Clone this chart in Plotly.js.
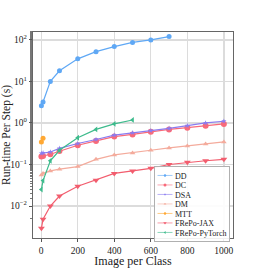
<!DOCTYPE html>
<html><head><meta charset="utf-8">
<script src="https://cdn.plot.ly/plotly-3.0.1.min.js"></script>
<style>html,body{margin:0;padding:0;background:#fff}#c{width:258px;height:268px}</style>
</head><body><div id="c"></div>
<script>
const ddX = [1,10,50,100,200,300,400,500,600,700];
const ddY = [2.6,3.2,10,18,35,52,69,87,100,120];
const fullX = [1,10,50,100,200,300,400,500,600,700,800,900,1000];
const dcY = [0.155,0.16,0.176,0.21,0.29,0.37,0.47,0.53,0.61,0.70,0.77,0.86,0.95];
const dsaY = [0.186,0.19,0.20,0.245,0.32,0.40,0.51,0.58,0.65,0.74,0.86,1.0,1.1];
const dmY = [0.056,0.061,0.07,0.077,0.089,0.133,0.17,0.19,0.22,0.25,0.28,0.31,0.35];
const mttX = [1,10];
const mttY = [0.35,0.43];
const jaxY = [0.0029,0.0048,0.010,0.0174,0.030,0.042,0.061,0.07,0.081,0.10,0.113,0.123,0.133];
const ptX = [1,10,50,100,200,300,400,500];
const ptY = [0.025,0.041,0.123,0.22,0.44,0.70,0.95,1.18];
const yTickVals = [0.01,0.1,1,10,100];
const yTickText = ['10<sup>−2</sup>','10<sup>−1</sup>','10<sup>0</sup>','10<sup>1</sup>','10<sup>2</sup>'];
const xTickVals = [0,200,400,600,800,1000];

const names = ['DD','DC','DSA','DM','MTT','FRePo-JAX','FRePo-PyTorch'];
const colors = ['#5fa8f5','#f86a7a','#8a7cf0','#f4ab9c','#ffa833','#f25d6e','#3dbb8c'];
const symbols = ['circle','circle','star','triangle-up','circle','triangle-down','triangle-left'];
const xs = [ddX, fullX, fullX, fullX, mttX, fullX, ptX];
const ys = [ddY, dcY, dsaY, dmY, mttY, jaxY, ptY];
const sizes = [5,6,4,5,5,6,5];

const traces = names.map((n,i)=>({
  x: xs[i], y: ys[i], name: n, type:'scatter', mode:'lines+markers',
  line:{color:colors[i], width:1.2},
  marker:{color:colors[i], symbol:symbols[i], size:sizes[i]}
}));

const font = {family:'Liberation Serif, Times New Roman, serif', color:'#222'};
const layout = {
  width:258, height:268,
  margin:{l:33, r:25, t:32, b:30},
  paper_bgcolor:'#fff', plot_bgcolor:'#fff',
  font: Object.assign({size:9}, font),
  showlegend:true,
  legend:{x:0.985, y:0.02, xanchor:'right', yanchor:'bottom',
    bgcolor:'rgba(255,255,255,0.9)', bordercolor:'#b0b0b0', borderwidth:2,
    font:Object.assign({size:16}, font), tracegroupgap:0, itemwidth:30},
  xaxis:{range:[-45,1050], tickvals:xTickVals,
    showgrid:true, gridcolor:'#dcdcdc', gridwidth:1.3, zeroline:false,
    showline:true, linecolor:'#666', linewidth:1.2, mirror:true,
    ticks:'outside', ticklen:3, tickcolor:'#555',
    tickfont:Object.assign({size:9.5}, font),
    title:{text:'Image per Class', font:Object.assign({size:12}, font), standoff:2}},
  yaxis:{type:'log', range:[-2.77,2.19], tickvals:yTickVals, ticktext:yTickText,
    showgrid:true, gridcolor:'#dcdcdc', gridwidth:1.3, zeroline:false,
    showline:true, linecolor:'#666', linewidth:1.2, mirror:true,
    ticks:'outside', ticklen:3, tickcolor:'#555',
    minor:{ticks:'outside', ticklen:1.5, tickcolor:'#777', showgrid:false},
    tickfont:Object.assign({size:9.5}, font),
    title:{text:'Run-time Per Step (s)', font:Object.assign({size:11.5}, font), standoff:0}}
};
Plotly.newPlot('c', traces, layout, {staticPlot:true, displayModeBar:false}).then(()=>{
  const leg = document.querySelector('.legend');
  if(!leg) return;
  const items = leg.querySelectorAll('.traces');
  let t0 = null, tx = 0;
  items.forEach((el,i)=>{
    const m = (el.getAttribute('transform')||'').match(/translate\(\s*([-\d.]+)[ ,]+([-\d.]+)\s*\)/);
    if(!m) return;
    if(t0 === null){ t0 = parseFloat(m[2]); tx = parseFloat(m[1]); }
    el.setAttribute('transform', 'translate(' + tx + ',' + (t0 + i*19) + ')');
  });
  const bg = leg.querySelector('rect.bg');
  let w = 140;
  if(bg){
    w = parseFloat(bg.getAttribute('width'));
    bg.setAttribute('height', (t0 + 6*19 + t0 - 2));
  }
  leg.setAttribute('transform', 'translate(' + (229 - w*0.5) + ',166) scale(0.5)');
});
</script></body></html>
